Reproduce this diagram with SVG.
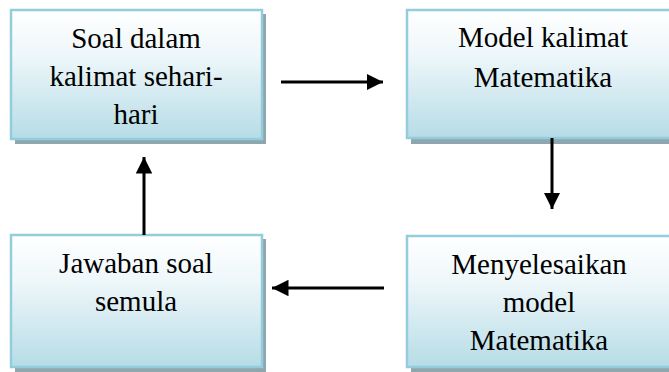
<svg xmlns="http://www.w3.org/2000/svg" width="669" height="372" viewBox="0 0 669 372">
  <style>
    .shadow { fill: #8ea6ad; }
    .box { fill: url(#boxFill); stroke: #93cddd; stroke-width: 2.5; }
    .label { font-family: "Liberation Serif", "Times New Roman", serif; font-size: 29px; fill: #000; text-anchor: middle; }
    .conn { stroke: #000; stroke-width: 3; fill: none; }
  </style>
  <defs>
    <linearGradient id="boxFill" x1="0" y1="0" x2="0" y2="1">
      <stop offset="0" stop-color="#ffffff"/>
      <stop offset="0.35" stop-color="#eef7fa"/>
      <stop offset="1" stop-color="#b6dce6"/>
    </linearGradient>
    <marker id="arrowHead" viewBox="0 0 10 10" refX="10" refY="5" markerWidth="5.5" markerHeight="5.5" markerUnits="strokeWidth" orient="auto">
      <path d="M0,0 L10,5 L0,10 Z" fill="#000"/>
    </marker>
  </defs>

  <g id="node-soal">
    <rect class="shadow" x="15" y="14" width="251" height="130"/>
    <rect class="box" x="11" y="10" width="251" height="129"/>
    <text class="label" x="136" y="48">Soal dalam</text>
    <text class="label" x="136" y="86">kalimat sehari-</text>
    <text class="label" x="136" y="124">hari</text>
  </g>

  <g id="node-model">
    <rect class="shadow" x="411" y="14" width="270" height="130"/>
    <rect class="box" x="407" y="10" width="270" height="128"/>
    <text class="label" x="543" y="47">Model kalimat</text>
    <text class="label" x="543" y="87">Matematika</text>
  </g>

  <g id="node-jawaban">
    <rect class="shadow" x="15" y="239" width="251" height="133"/>
    <rect class="box" x="11" y="235" width="251" height="132"/>
    <text class="label" x="136" y="273">Jawaban soal</text>
    <text class="label" x="136" y="311">semula</text>
  </g>

  <g id="node-menyelesaikan">
    <rect class="shadow" x="411" y="240" width="270" height="132"/>
    <rect class="box" x="407" y="236" width="270" height="131"/>
    <text class="label" x="539" y="274">Menyelesaikan</text>
    <text class="label" x="539" y="312">model</text>
    <text class="label" x="539" y="350">Matematika</text>
  </g>

  <g id="connectors">
    <line class="conn" x1="281" y1="82" x2="383" y2="82" marker-end="url(#arrowHead)"/>
    <line class="conn" x1="552" y1="138" x2="552" y2="209" marker-end="url(#arrowHead)"/>
    <line class="conn" x1="384" y1="288" x2="272" y2="288" marker-end="url(#arrowHead)"/>
    <line class="conn" x1="144" y1="235" x2="144" y2="157" marker-end="url(#arrowHead)"/>
  </g>
</svg>
